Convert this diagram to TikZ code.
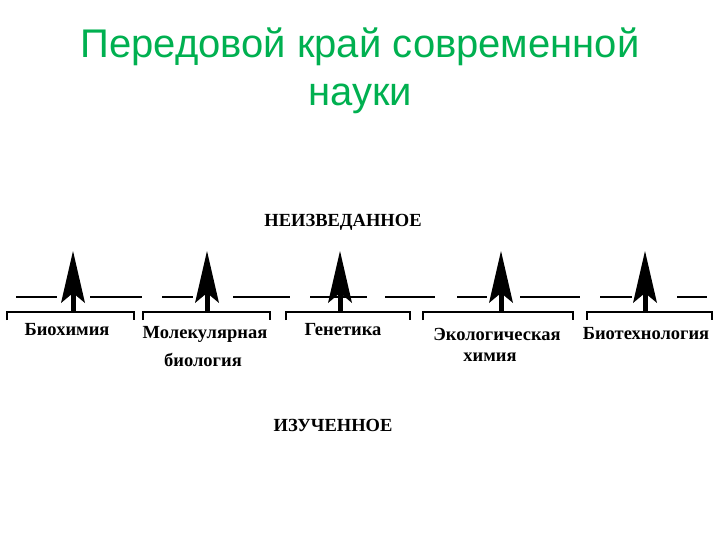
\documentclass[tikz,border=0pt]{standalone}
\usepackage{fontspec}
\setmainfont{Liberation Serif}
\newfontfamily\titlefont{Liberation Sans}
\begin{document}
\begin{tikzpicture}[x=1pt,y=-1pt,
  lbl/.style={font=\bfseries\fontsize{18.5}{21}\selectfont,inner sep=0pt},
  seg/.style={line width=1.2pt},
  brk/.style={line width=1.6pt}]
\useasboundingbox (0,0) rectangle (720,540);
\definecolor{tgreen}{RGB}{0,176,80}
\node[font=\titlefont\fontsize{40}{48}\selectfont,text=tgreen,align=center] (title) at (360,71) {Передовой край современной\\науки};
\node[lbl] (top) at (343,222) {НЕИЗВЕДАННОЕ};
\node[lbl] (bot) at (333,425) {ИЗУЧЕННОЕ};
\foreach \a/\b in {16/57,90/142,162/193,233/290,310/367,385/435,457/487,520/580,600/632,677/707}
  \draw[seg] (\a,297) -- (\b,297);
\foreach \x in {73,207,340,501,645}{
  \fill (\x-2.5,288) rectangle (\x+2.5,313);
  \fill (\x,251) -- (\x+12,303) -- (\x,293) -- (\x-12,303) -- cycle;
}
\foreach \a/\b in {7/134,143/270,286/410,423/573,587/712}
  \draw[brk] (\a,320) -- (\a,312) -- (\b,312) -- (\b,320);
\node[lbl] (l1) at (67,330) {Биохимия};
\node[lbl] (l2) at (205,334) {Молекулярная};
\node[lbl] (l2b) at (203,360) {биология};
\node[lbl] (l3) at (343,330) {Генетика};
\node[lbl] (l4) at (497,334) {Экологическая};
\node[lbl] (l4b) at (490,357) {химия};
\node[lbl] (l5) at (646,334) {Биотехнология};
\end{tikzpicture}
\end{document}
